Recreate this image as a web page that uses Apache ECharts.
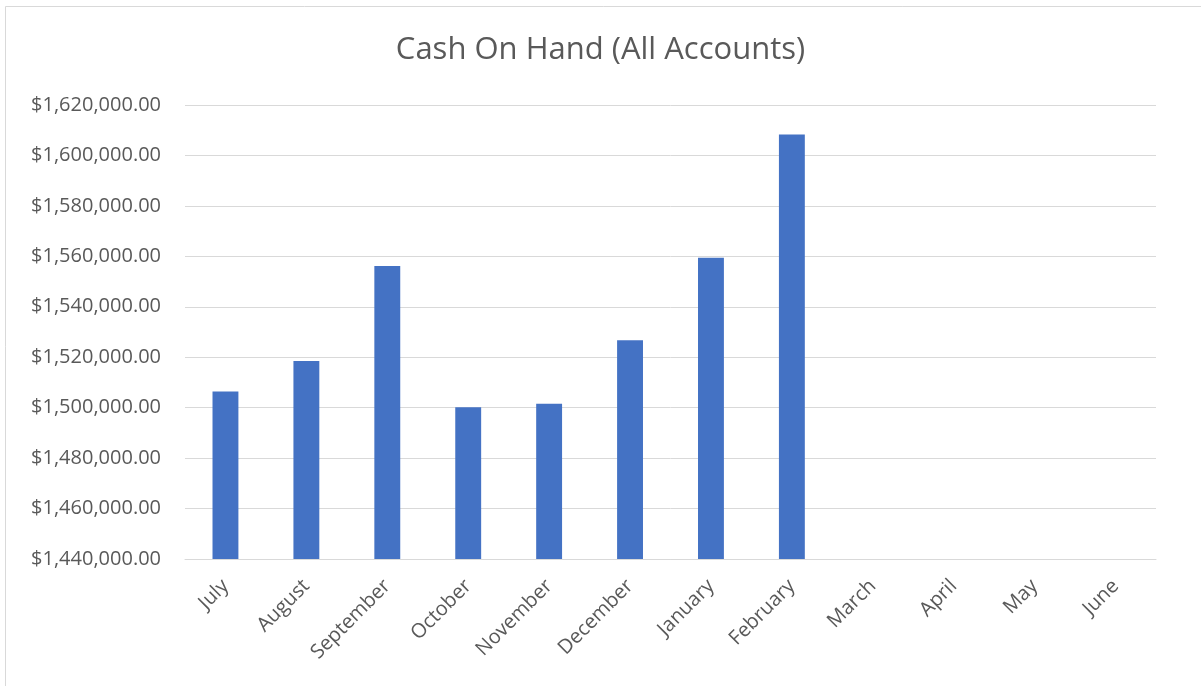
<!DOCTYPE html>
<html>
<head>
<meta charset="utf-8">
<script src="https://cdn.jsdelivr.net/npm/echarts@6/dist/echarts.min.js"></script>
<style>
html,body{margin:0;padding:0;background:#fff;}
#chart{width:1201px;height:686px;}
</style>
</head>
<body>
<div id="chart"></div>
<script>
const categories = ['July','August','September','October','November','December','January','February','March','April','May','June'];
const cashValues = [1506400, 1518500, 1556200, 1500200, 1501600, 1526700, 1559400, 1608300, null, null, null, null];
const titleText = 'Cash On Hand (All Accounts)';

const chart = echarts.init(document.getElementById('chart'));
const fontFamily = '"Open Sans", "Noto Sans", sans-serif';
chart.setOption({
  backgroundColor: '#ffffff',
  animation: false,
  title: {
    text: titleText,
    left: 'center',
    top: 30,
    textStyle: { fontFamily: fontFamily, fontSize: 31, fontWeight: 'normal', color: '#595959' }
  },
  graphic: [{
    type: 'rect',
    shape: { x: 5.5, y: 6.5, width: 1210, height: 700 },
    style: { fill: 'none', stroke: '#d9d9d9', lineWidth: 1 },
    silent: true
  }],
  grid: { left: 185, right: 45, top: 105, bottom: 127, containLabel: false },
  xAxis: {
    type: 'category',
    data: categories,
    axisLine: { show: true, lineStyle: { color: '#d9d9d9', width: 1 } },
    axisTick: { show: false },
    axisLabel: { rotate: 45, interval: 0, margin: 24, fontFamily: fontFamily, fontSize: 20, color: '#595959' }
  },
  yAxis: {
    type: 'value',
    min: 1440000,
    max: 1620000,
    interval: 20000,
    axisLine: { show: false },
    axisTick: { show: false },
    splitLine: { lineStyle: { color: '#d9d9d9', width: 1 } },
    axisLabel: {
      margin: 24,
      fontFamily: fontFamily, fontSize: 20, color: '#595959',
      formatter: v => '$' + v.toLocaleString('en-US', { minimumFractionDigits: 2, maximumFractionDigits: 2 })
    }
  },
  series: [{
    type: 'bar',
    data: cashValues,
    barWidth: '32%',
    itemStyle: { color: '#4472c4' }
  }]
});
</script>
</body>
</html>
